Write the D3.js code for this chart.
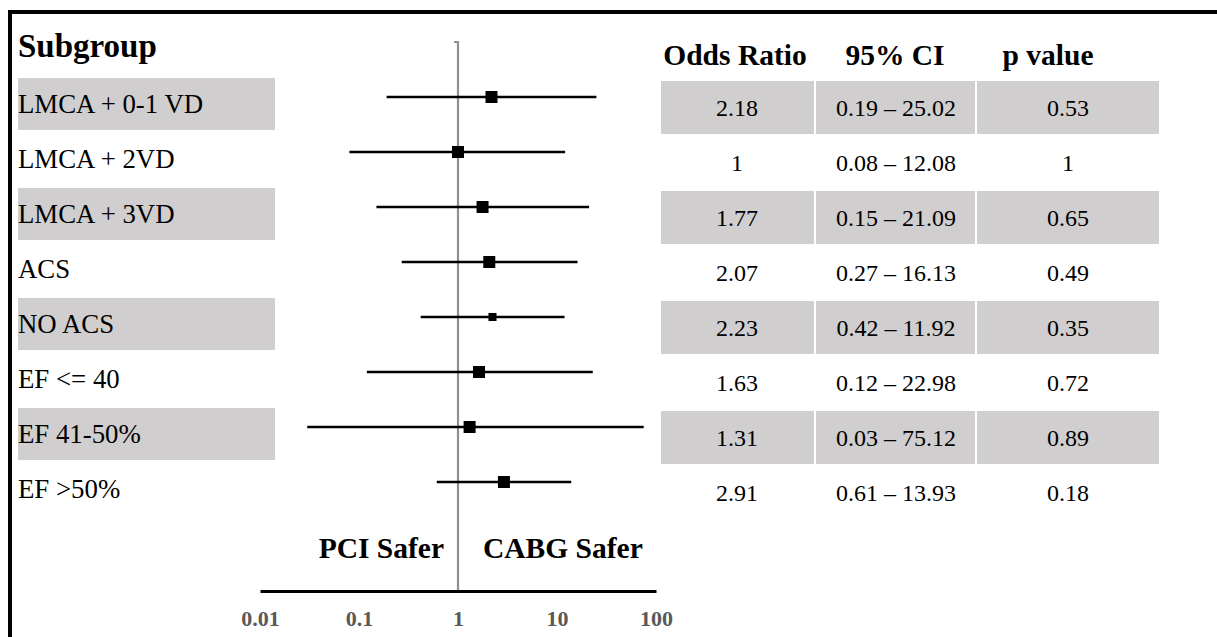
<!DOCTYPE html>
<html>
<head>
<meta charset="utf-8">
<script src="https://cdn.jsdelivr.net/npm/d3@7"></script>
<style>
  body { margin: 0; background: #fff; }
  svg text { font-family: 'Liberation Serif', serif; }
</style>
</head>
<body>
<svg width="1217" height="637"></svg>
<script>
// data
const subgroups = ['LMCA + 0-1 VD', 'LMCA + 2VD', 'LMCA + 3VD', 'ACS', 'NO ACS', 'EF <= 40', 'EF 41-50%', 'EF >50%'];
const oddsRatio = [2.18, 1, 1.77, 2.07, 2.23, 1.63, 1.31, 2.91];
const ciLow = [0.19, 0.08, 0.15, 0.27, 0.42, 0.12, 0.03, 0.61];
const ciHigh = [25.02, 12.08, 21.09, 16.13, 11.92, 22.98, 75.12, 13.93];
const pValues = ['0.53', '1', '0.65', '0.49', '0.35', '0.72', '0.89', '0.18'];
const weights = [1, 1, 1, 1, 0.45, 1, 1, 1];
const axisTicks = [0.01, 0.1, 1, 10, 100];
const headers = ['Odds Ratio', '95% CI', 'p value'];

const fmtNum = d => d3.format('.2f')(d).replace(/\.00$/, '');

const rows = subgroups.map((s, i) => ({
    name: s,
    or: oddsRatio[i],
    lo: ciLow[i],
    hi: ciHigh[i],
    p: pValues[i],
    w: weights[i],
    i: i
}));

const svg = d3.select('svg').attr('font-family', 'Liberation Serif, serif');
const shade = '#d0cece';

// frame (runs off the right and bottom of the picture)
svg.append('rect')
    .attr('x', 10).attr('y', 12)
    .attr('width', 1400).attr('height', 800)
    .attr('fill', 'none')
    .attr('stroke', '#000')
    .attr('stroke-width', 4);

const x = d3.scaleLog().domain([0.01, 100]).range([260, 656]);
const y = d3.scaleBand().domain(d3.range(subgroups.length)).range([69.5, 509.5]);
const yc = i => y(i) + y.bandwidth() / 2;
const boxSize = d3.scaleSqrt().domain([0, 1]).range([0, 12]);

// left column: subgroup labels
svg.append('text')
    .attr('x', 18).attr('y', 57)
    .attr('font-size', 33)
    .attr('font-weight', 'bold')
    .text('Subgroup');

const lab = svg.append('g');
lab.selectAll('rect')
    .data(rows.filter(d => d.i % 2 === 0))
    .join('rect')
    .attr('x', 18)
    .attr('y', d => yc(d.i) - 19)
    .attr('width', 257)
    .attr('height', 52)
    .attr('fill', shade);
lab.selectAll('text')
    .data(rows)
    .join('text')
    .attr('x', 18)
    .attr('y', d => yc(d.i) + 16)
    .attr('font-size', 26.8)
    .text(d => d.name);

// reference line at OR = 1
svg.append('path')
    .attr('d', `M${x(1) - 4},42 H${x(1)} V591`)
    .attr('fill', 'none')
    .attr('stroke', '#909090')
    .attr('stroke-width', 2.2);

// confidence intervals + point estimates
const plot = svg.append('g');
plot.selectAll('line')
    .data(rows)
    .join('line')
    .attr('x1', d => x(d.lo))
    .attr('x2', d => x(d.hi))
    .attr('y1', d => yc(d.i))
    .attr('y2', d => yc(d.i))
    .attr('stroke', '#000')
    .attr('stroke-width', 2.6);
plot.selectAll('rect')
    .data(rows)
    .join('rect')
    .attr('x', d => x(d.or) - boxSize(d.w) / 2)
    .attr('y', d => yc(d.i) - boxSize(d.w) / 2)
    .attr('width', d => boxSize(d.w))
    .attr('height', d => boxSize(d.w))
    .attr('fill', '#000');

// bottom axis
const xAxis = d3.axisBottom(x)
    .tickValues(axisTicks)
    .tickFormat(d => String(d))
    .tickSize(0)
    .tickSizeOuter(0)
    .tickPadding(19);
const axisG = svg.append('g')
    .attr('transform', 'translate(0,591)')
    .call(xAxis)
    .attr('font-family', 'Liberation Serif, serif');
axisG.select('.domain').attr('stroke', '#000').attr('stroke-width', 3);
axisG.selectAll('text')
    .attr('font-size', 22)
    .attr('font-weight', 'bold')
    .attr('fill', '#595959');

svg.append('text')
    .attr('x', x(1) - 14).attr('y', 558)
    .attr('text-anchor', 'end')
    .attr('font-size', 29.5)
    .attr('font-weight', 'bold')
    .text('PCI Safer');
svg.append('text')
    .attr('x', x(1) + 25).attr('y', 558)
    .attr('font-size', 29.5)
    .attr('font-weight', 'bold')
    .text('CABG Safer');

// right table
const cols = [
    { x0: 661, x1: 814, cx: 737, hx: 735, val: d => fmtNum(d.or) },
    { x0: 816, x1: 975, cx: 896, hx: 895, val: d => `${fmtNum(d.lo)} – ${fmtNum(d.hi)}` },
    { x0: 977, x1: 1159, cx: 1068, hx: 1048, val: d => d.p }
];

svg.append('g').selectAll('text')
    .data(headers)
    .join('text')
    .attr('x', (d, k) => cols[k].hx)
    .attr('y', 65)
    .attr('text-anchor', 'middle')
    .attr('font-size', 29.5)
    .attr('font-weight', 'bold')
    .text(d => d);

const tbl = svg.append('g');
cols.forEach(c => {
    tbl.append('g').selectAll('rect')
        .data(rows.filter(d => d.i % 2 === 0))
        .join('rect')
        .attr('x', c.x0)
        .attr('y', d => yc(d.i) - 16)
        .attr('width', c.x1 - c.x0)
        .attr('height', 53)
        .attr('fill', shade);
    tbl.append('g').selectAll('text')
        .data(rows)
        .join('text')
        .attr('x', c.cx)
        .attr('y', d => yc(d.i) + 19)
        .attr('text-anchor', 'middle')
        .attr('font-size', 24)
        .text(c.val);
});
</script>
</body>
</html>
